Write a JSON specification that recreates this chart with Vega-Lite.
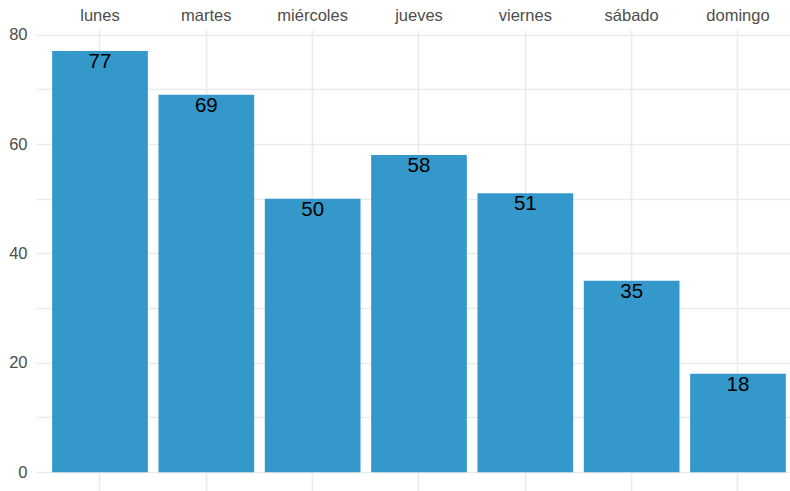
{
  "$schema": "https://vega.github.io/schema/vega-lite/v6.json",
  "width": 754,
  "height": 461,
  "autosize": {"type": "none"},
  "padding": {"left": 36, "top": 30, "right": 0, "bottom": 0},
  "background": "white",
  "config": {
    "view": {"stroke": null},
    "font": "Liberation Sans",
    "axis": {"gridColor": "#ebebeb", "domain": false, "ticks": false, "labelColor": "#4d4d4d", "labelFont": "Liberation Sans", "labelFontSize": 16.5, "title": null}
  },
  "data": {
    "values": [
      {"dia": "lunes", "n": 77},
      {"dia": "martes", "n": 69},
      {"dia": "miércoles", "n": 50},
      {"dia": "jueves", "n": 58},
      {"dia": "viernes", "n": 51},
      {"dia": "sábado", "n": 35},
      {"dia": "domingo", "n": 18}
    ]
  },
  "encoding": {
    "x": {
      "field": "dia", "type": "nominal", "sort": null,
      "scale": {"paddingInner": 0.1, "paddingOuter": 0.0955, "align": 0.795},
      "axis": {"orient": "top", "labelAngle": 0, "labelPadding": 7, "grid": true, "gridWidth": 1.6}
    },
    "y": {
      "field": "n", "type": "quantitative",
      "scale": {"domain": [-3.45, 80.85], "nice": false, "zero": false},
      "axis": {"values": [0, 10, 20, 30, 40, 50, 60, 70, 80], "labelExpr": "datum.value % 20 == 0 ? datum.label : ''", "labelPadding": 9, "gridWidth": 1.3}
    }
  },
  "layer": [
    {
      "mark": {"type": "bar", "color": "#3498cb"},
      "encoding": {"y2": {"datum": 0}}
    },
    {
      "mark": {"type": "text", "dy": 11, "fontSize": 20.5, "color": "black", "font": "Liberation Sans", "baseline": "middle"},
      "encoding": {"text": {"field": "n", "type": "quantitative"}}
    }
  ]
}
